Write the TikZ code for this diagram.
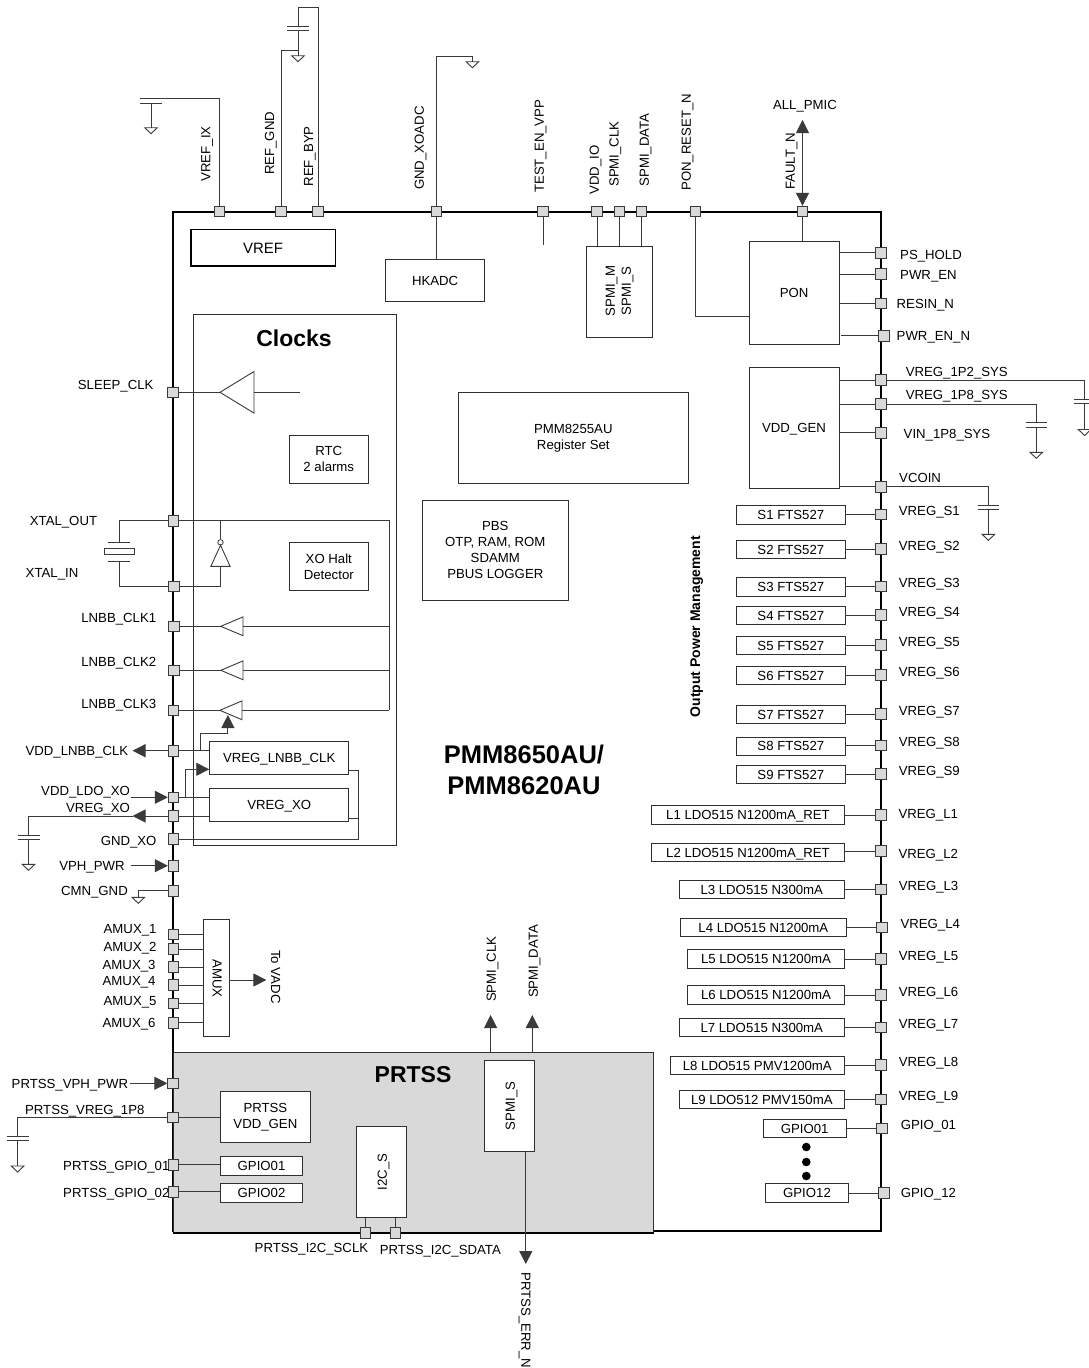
\documentclass[tikz,border=0pt]{standalone}
\usepackage{fontspec}
\setmainfont{Liberation Sans}
\usetikzlibrary{arrows.meta,calc}
\definecolor{wirec}{HTML}{3A3A3A}
\definecolor{padfill}{HTML}{D9D9D9}
\definecolor{boxc}{HTML}{303030}
\newcommand{\txtf}{\fontsize{13.2}{16}\selectfont}
\newcommand{\bx}[7][]{%
 \pgfmathsetmacro\myw{#5-#3}\pgfmathsetmacro\myh{#6-#4}%
 \pgfmathsetmacro\mycx{(#3+#5)/2}\pgfmathsetmacro\mycy{(#4+#6)/2}%
 \node[blk,minimum width=\myw pt,minimum height=\myh pt,#1] (#2) at (\mycx,\mycy) {#7};}
\newcommand{\pd}[3]{\node[padbox] (#1) at (#2,#3) {};}
% capacitor plates, horizontal, with named terminals
\newcommand{\capv}[4][10.7]{%
 \coordinate (#2-a) at (#3,#4); \coordinate (#2-b) at ($(#3,#4)+(0,4.6)$);
 \draw[wire] ($(#2-a)+(-#1,0)$) -- ($(#2-a)+(#1,0)$);
 \draw[wire] ($(#2-b)+(-#1,0)$) -- ($(#2-b)+(#1,0)$);}
\newcommand{\gndv}[3]{%
 \coordinate (#1-a) at (#2,#3);
 \draw[wire,line join=miter] ($(#1-a)+(-6.3,0)$) -- ($(#1-a)+(6.3,0)$) -- ($(#1-a)+(0,6)$) -- cycle;}
\newcommand{\bufl}[5]{% name, tip x, base x, y, half height
 \coordinate (#1-t) at (#2,#4); \coordinate (#1-b) at (#3,#4);
 \draw[wire,fill=white] (#1-t) -- ($(#1-b)+(0,-#5)$) -- ($(#1-b)+(0,#5)$) -- cycle;}
\tikzset{
 wire/.style={draw=wirec,line width=0.9pt},
 blk/.style={draw=boxc,line width=0.9pt,fill=white,inner sep=0pt,align=center,font=\txtf,text=black,text height=9.6pt,text depth=0pt},
 ml/.style={text height={},text depth={}},
 padbox/.style={draw=wirec,line width=0.8pt,fill=padfill,minimum size=10.5pt,inner sep=0pt},
 lb/.style={font=\txtf,inner sep=0pt,text=black,text height=9.6pt,text depth=0pt},
 bold/.style={inner sep=0pt,text=black,align=center},
 arr/.style={wire,-{Triangle[length=13pt,width=13pt]}},
 darr/.style={wire,{Triangle[length=13pt,width=13pt]}-{Triangle[length=13pt,width=13pt]}},
}
\begin{document}
\begin{tikzpicture}[x=1pt,y=-1pt]
\useasboundingbox (0,0) rectangle (1088,1368);
\fill[white] (0,0) rectangle (1088,1368);
% chip outline and PRTSS region
\node[draw=black,line width=2pt,inner sep=0pt,minimum width=708pt,minimum height=1019.5pt] (chip) at (527,721.7) {};
\node[draw=boxc,line width=1pt,fill=padfill,inner sep=0pt,minimum width=480pt,minimum height=180pt] (prt) at (413,1142) {};
\draw[black,line width=2pt] (prt.south west) -- (prt.south east);
% Clocks region
\bx[fill=none]{clk}{193}{314}{396}{845}{}
% blocks
\bx[line width=1.5pt,draw=black,font=\fontsize{15}{18}\selectfont,text height=10.8pt]{vref}{190.8}{229.7}{335.4}{266}{VREF}
\bx{hk}{385.7}{259.7}{484.5}{301}{HKADC}
\bx{spmi}{586.5}{246}{652.5}{337.3}{}
\bx{pon}{749}{241.7}{839.2}{344}{PON}
\bx{vgen}{749}{367.7}{839}{488}{VDD\_GEN}
\bx[ml]{regs}{458.3}{392.7}{688.3}{483.3}{PMM8255AU\\Register Set}
\bx[ml]{pbs}{422.3}{500}{568.3}{600}{PBS\\OTP, RAM, ROM\\SDAMM\\PBUS LOGGER}
\bx[ml]{rtc}{289.6}{435.3}{368}{483.3}{RTC\\2 alarms}
\bx[ml]{xoh}{289.6}{542.3}{368}{590.3}{XO Halt\\Detector}
\bx{vlnbb}{209.7}{741.7}{348.7}{774.3}{VREG\_LNBB\_CLK}
\bx{vxo}{209.7}{788}{348.7}{821}{VREG\_XO}
\bx{amux}{203.7}{919.7}{229.5}{1036.7}{}
\bx[ml]{pvg}{220.4}{1091.7}{310.4}{1142}{PRTSS\\VDD\_GEN}
\bx{pg1}{220.4}{1156.7}{302.7}{1175}{GPIO01}
\bx{pg2}{220.4}{1183.7}{302.7}{1202}{GPIO02}
\bx{i2c}{356}{1126.7}{406.4}{1217}{}
\bx{sps}{484.5}{1060.7}{534.6}{1151}{}
% rotated text inside blocks
\node[lb,rotate=90] (tsm) at (610,291) {SPMI\_M};
\node[lb,rotate=90] (tss) at (626,291) {SPMI\_S};
\node[lb,rotate=-90] (tam) at (217.4,978.7) {AMUX};
\node[lb,rotate=90] (ti2) at (382,1172) {I2C\_S};
\node[lb,rotate=90] (tsp) at (510,1106) {SPMI\_S};
% regulators on the right
\foreach \n/\xa/\ya/\xb/\yb/\t/\px/\py/\l/\lx/\ly in {
 S1/736.7/505.7/845/524/S1 FTS527/881/514.3/VREG\_S1/898.7/510.7,
 S2/736.7/540.3/845/558.3/S2 FTS527/881/549/VREG\_S2/898.7/545.3,
 S3/736.7/577.7/845/596/S3 FTS527/881/586.3/VREG\_S3/898.7/582.3,
 S4/736.7/606.3/845/624.7/S4 FTS527/881/615/VREG\_S4/898.7/611.3,
 S5/736.7/636.3/845/654.3/S5 FTS527/881/645/VREG\_S5/898.7/641.3,
 S6/736.7/666.3/845/684.3/S6 FTS527/881/675/VREG\_S6/898.7/671.3,
 S7/736.7/705.3/845/723.3/S7 FTS527/881/714/VREG\_S7/898.7/710.3,
 S8/736.7/737/845/755/S8 FTS527/881/745.3/VREG\_S8/898.7/741.3,
 S9/736.7/765.3/845/783.3/S9 FTS527/881/774/VREG\_S9/898.7/770.3,
 L1/651.7/805.7/844.3/824/L1 LDO515 N1200mA\_RET/881/815/VREG\_L1/898.3/813.3,
 L2/651.7/843.3/844.3/861.7/L2 LDO515 N1200mA\_RET/881/851/VREG\_L2/898.3/853.3,
 L3/679.3/880.3/844.3/898.7/L3 LDO515 N300mA/881/889.3/VREG\_L3/898.7/885.3,
 L4/680.7/918.3/846/936.3/L4 LDO515 N1200mA/881.7/927.3/VREG\_L4/900.3/923.3,
 L5/687.7/949.7/844.3/968/L5 LDO515 N1200mA/881/959/VREG\_L5/898.7/955.3,
 L6/687.7/985.7/844.3/1004/L6 LDO515 N1200mA/881/995/VREG\_L6/898.7/991.3,
 L7/679.3/1018.3/844.3/1036.7/L7 LDO515 N300mA/881/1027.3/VREG\_L7/898.7/1023.3,
 L8/670.3/1056.3/844.3/1074.3/L8 LDO515 PMV1200mA/881/1065/VREG\_L8/898.7/1061.3,
 L9/679.3/1090.3/844.3/1108.3/L9 LDO512 PMV150mA/881/1099.3/VREG\_L9/898.7/1095.3,
 G1/763.3/1119.3/846/1137.3/GPIO01/881.7/1128.3/GPIO\_01/900.7/1124.3,
 G12/765.7/1183.7/848.3/1202/GPIO12/884/1193/GPIO\_12/900.7/1192.3}{
 \bx{b\n}{\xa}{\ya}{\xb}{\yb}{\t}
 \pd{p\n}{\px}{\py}
 \draw[wire] (p\n.west) -- (b\n.east |- p\n.west);
 \node[lb,anchor=west] (l\n) at (\lx,\ly) {\l};
}
\node[circle,fill=black,inner sep=0pt,minimum size=8.6pt] (d1) at (806.3,1147) {};
\node[circle,fill=black,inner sep=0pt,minimum size=8.6pt] (d2) at (806.3,1162) {};
\node[circle,fill=black,inner sep=0pt,minimum size=8.6pt] (d3) at (806.3,1176) {};
% top pads with rotated names
\foreach \n/\x/\t/\lx/\ly in {
 VI/219.5/VREF\_IX/205.6/181.7, RG/281/REF\_GND/269.3/175, RB/318/REF\_BYP/308.2/186.7,
 GX/436.3/GND\_XOADC/419/190, TE/543/TEST\_EN\_VPP/539/193, VO/597/VDD\_IO/594/195,
 SC/619.3/SPMI\_CLK/613.7/187, SD/641.4/SPMI\_DATA/644/186.7, PR/695.5/PON\_RESET\_N/686/191,
 FN/802.5/FAULT\_N/790/190}{
 \pd{p\n}{\x}{211.5}
 \node[lb,rotate=90,anchor=west] (l\n) at (\lx,\ly) {\t};
}
% right pads
\foreach \n/\x/\y/\t/\lx/\ly in {
 PS/881/252.7/PS\_HOLD/900/255, PE/881/274/PWR\_EN/900/274.3, RN/881/303.3/RESIN\_N/896.5/303.3,
 PEN/884/335.7/PWR\_EN\_N/896.5/335.3, V12/881/380/VREG\_1P2\_SYS/905.6/371.3,
 V18/881/404/VREG\_1P8\_SYS/905.6/395, VIN/881/432.7/VIN\_1P8\_SYS/903.5/433.3, VC/881/486.7/VCOIN/899/477.3}{
 \pd{p\n}{\x}{\y}
 \node[lb,anchor=west] (l\n) at (\lx,\ly) {\t};
}
% left pads
\foreach \n/\x/\y/\t/\lx/\ly in {
 SL/173/392.3/SLEEP\_CLK/153.7/384.3, XO/173.5/520.7/XTAL\_OUT/97.3/520.3, XI/174/586.3/XTAL\_IN/78.5/572.3,
 C1/174/626.3/LNBB\_CLK1/156.4/617.3, C2/174/670.3/LNBB\_CLK2/156.4/661.3, C3/173.5/710.3/LNBB\_CLK3/156.4/703.3,
 VL/173.5/750.7/VDD\_LNBB\_CLK/128.5/750.3, VD/173.5/797.3/VDD\_LDO\_XO/130.2/790.3, VX/173.5/816/VREG\_XO/130.2/808,
 GO/173.5/839/GND\_XO/156.7/840.3, VP/173.5/865.7/VPH\_PWR/124.8/865.3, CG/173.5/890.7/CMN\_GND/128/890.3,
 A1/173.5/934.3/AMUX\_1/156.7/928.7, A2/173.5/949/AMUX\_2/156.7/946.7, A3/173.5/967/AMUX\_3/155.7/964.3,
 A4/173.5/985/AMUX\_4/155.7/980.3, A5/173.5/1003.3/AMUX\_5/156.7/1000.3, A6/173.5/1022.7/AMUX\_6/155.7/1022.3}{
 \pd{p\n}{\x}{\y}
 \node[lb,anchor=east] (l\n) at (\lx,\ly) {\t};
}
% PRTSS pads
\pd{pPV}{173}{1083.3}\pd{pPR1}{173}{1117.5}\pd{pPG1}{173.5}{1164.7}\pd{pPG2}{173.5}{1191.7}
\pd{pSC2}{365.5}{1232.7}\pd{pSD2}{395.3}{1232.7}
\node[lb,anchor=west] (lPV) at (11.5,1083.3) {PRTSS\_VPH\_PWR};
\node[lb,anchor=west] (lPR1) at (24.9,1109.3) {PRTSS\_VREG\_1P8};
\node[lb,anchor=west] (lPG1) at (63,1165.3) {PRTSS\_GPIO\_01};
\node[lb,anchor=west] (lPG2) at (63,1192.3) {PRTSS\_GPIO\_02};
\node[lb,anchor=west] (lSC2) at (254.5,1248) {PRTSS\_I2C\_SCLK};
\node[lb,anchor=west] (lSD2) at (379.6,1249.3) {PRTSS\_I2C\_SDATA};
\node[lb,rotate=-90,anchor=west] (lERR) at (526.2,1272.3) {PRTSS\_ERR\_N};
\node[lb,rotate=90,anchor=west] (lSCK) at (491,1002) {SPMI\_CLK};
\node[lb,rotate=90,anchor=west] (lSDT) at (533,998) {SPMI\_DATA};
\node[lb,rotate=-90] (lVADC) at (275.8,977) {To VADC};
\node[lb] (lALL) at (805,105) {ALL\_PMIC};
% big labels
\node[bold,font=\bfseries\fontsize{23}{26}\selectfont] (tClk) at (294,338) {Clocks};
\node[bold,font=\bfseries\fontsize{23}{26}\selectfont] (tPrt) at (413,1075) {PRTSS};
\node[bold,font=\bfseries\fontsize{25.5}{31.5}\selectfont] (tChip) at (524,770) {PMM8650AU/\\PMM8620AU};
\node[bold,font=\bfseries\fontsize{14}{16}\selectfont,rotate=90] (tOut) at (696.7,626.7) {Output Power Management};
% ---- connectors: top side
\capv{cVI}{151}{98.7}\gndv{gVI}{151}{127.7}
\draw[wire] (pVI.north) |- (cVI-a);
\draw[wire] (cVI-b) -- (gVI-a);
\capv{cRB}{298}{26}\gndv{gRB}{298}{55.7}
\coordinate (jRT) at (298,7.7);\coordinate (jRG) at (298,50);
\draw[wire] (pRB.north) |- (jRT) -- (cRB-a);
\draw[wire] (cRB-b) -- (gRB-a);
\draw[wire] (pRG.north) |- (jRG);
\gndv{gGX}{472.4}{61.7}
\coordinate (jGX) at (472.4,56);
\draw[wire] (pGX.north) |- (jGX) -- (gGX-a);
\draw[wire] (pGX.south) -- (hk.north -| pGX.south);
\coordinate (eTE) at (543,245);
\draw[wire] (pTE.south) -- (eTE);
\draw[wire] (pVO.south) -- (spmi.north -| pVO.south);
\draw[wire] (pSC.south) -- (spmi.north -| pSC.south);
\draw[wire] (pSD.south) -- (spmi.north -| pSD.south);
\draw[wire] (pPR.south) |- (pon.west |- 0,316.7);
\draw[wire] (pFN.south) -- (pon.north -| pFN.south);
\coordinate (eALL) at (802.5,120);
\draw[darr] (eALL) -- (pFN.north);
% ---- connectors: right side
\foreach \n in {PS,PE,RN}{\draw[wire] (p\n.west) -- (pon.east |- p\n.west);}
\coordinate (ePEN) at (841.3,335.7);
\draw[wire] (pPEN.west) -- (ePEN);
\foreach \n in {V12,V18,VIN,VC}{\draw[wire] (p\n.west) -- (vgen.east |- p\n.west);}
\capv{cV12}{1084.6}{399.3}\gndv{gV12}{1084.6}{429.5}
\draw[wire] (pV12.east) -| (cV12-a); \draw[wire] (cV12-b) -- (gV12-a);
\capv{cV18}{1036.3}{422.7}\gndv{gV18}{1036.3}{452.3}
\draw[wire] (pV18.east) -| (cV18-a); \draw[wire] (cV18-b) -- (gV18-a);
\capv{cVC}{988.4}{505}\gndv{gVC}{988.4}{534.3}
\draw[wire] (pVC.east) -| (cVC-a); \draw[wire] (cVC-b) -- (gVC-a);
% ---- connectors: clocks
\bufl{bS}{220}{254}{392.3}{20.8}
\coordinate (eS) at (300,392.3);
\draw[wire] (pSL.east) -- (bS-t);
\draw[wire] (bS-b) -- (eS);
\coordinate (cXl) at (119,520.7);\coordinate (cXb) at (119,586.3);
\coordinate (rXT) at (389,520.7);\coordinate (rC1) at (389,626.3);\coordinate (rC2) at (389,670.3);\coordinate (rC3) at (389,710.3);
\coordinate (xP1) at (119,542);\coordinate (xP2) at (119,561.3);
\draw[wire] (pXO.west) -- (cXl) -- (xP1);
\draw[wire] ($(xP1)+(-10.9,0)$) -- ($(xP1)+(10.9,0)$);
\node[draw=wirec,line width=0.9pt,inner sep=0pt,minimum width=30.2pt,minimum height=6pt] (xtal) at (119.5,551) {};
\draw[wire] ($(xP2)+(-10.9,0)$) -- ($(xP2)+(10.9,0)$);
\draw[wire] (xP2) -- (cXb) -- (pXI.west);
\draw[wire] (pXO.east) -- (rXT) -- (rC3);
\node[circle,draw=wirec,line width=0.8pt,inner sep=0pt,minimum size=5.4pt] (iB) at (220.5,542.3) {};
\coordinate (iT) at (220.5,545.2);\coordinate (iN) at (220.5,566.3);
\draw[wire] (iT) -- ($(iN)+(-9.6,0)$) -- ($(iN)+(9.6,0)$) -- cycle;
\draw[wire] (rXT -| iB) -- (iB.north);
\draw[wire] (pXI.east) -| (iN);
\bufl{b1}{220.8}{243}{626.3}{9.4}
\bufl{b2}{220.8}{243}{670.3}{9.4}
\bufl{b3}{219.8}{242}{710.3}{9.4}
\draw[wire] (pC1.east) -- (b1-t);\draw[wire] (b1-b) -- (rC1);
\draw[wire] (pC2.east) -- (b2-t);\draw[wire] (b2-b) -- (rC2);
\draw[wire] (pC3.east) -- (b3-t);\draw[wire] (b3-b) -- (rC3);
% ---- connectors: LNBB / XO
\coordinate (eVL) at (132.5,750.7);
\draw[arr] (pVL.west) -- (eVL);
\draw[wire] (pVL.east) -- (vlnbb.west |- pVL.east);
\coordinate (jV1) at (200.3,750.7);\coordinate (eB3) at (227.9,715);
\draw[arr] (jV1) |- (227.9,733.3) -- (eB3);
\coordinate (sVD) at (131,797.3);
\draw[arr] (sVD) -- (pVD.west);
\draw[wire] (pVD.east) -- (vxo.west |- pVD.east);
\coordinate (jV2) at (185.6,797.3);
\draw[arr] (jV2) |- (vlnbb.west |- 0,769.3);
\coordinate (eVX) at (132.5,816);\coordinate (jVX) at (146,816);
\capv[11]{cVX}{28.5}{835}\gndv{gVX}{28.5}{864.3}
\draw[wire] (pVX.east) -- (vxo.west |- pVX.east);
\draw[arr] (pVX.west) -- (eVX);
\draw[wire] (eVX) -| (cVX-a);
\draw[wire] (cVX-b) -- (gVX-a);
\coordinate (rG) at (358,839);
\draw[wire] (pGO.east) -- (rG) -- (358,770) -- (vlnbb.east |- 0,770);
\draw[wire] (vxo.east |- 0,818) -- (358,818);
\coordinate (sVP) at (131,865.7);
\draw[arr] (sVP) -- (pVP.west);
\gndv{gCG}{138.3}{897.3}
\draw[wire] (pCG.west) -| (gCG-a);
% ---- connectors: AMUX
\foreach \n in {A1,A2,A3,A4,A5,A6}{\draw[wire] (p\n.east) -- (amux.west |- p\n.east);}
\coordinate (eAM) at (266.4,980);
\draw[arr] (amux.east |- eAM) -- (eAM);
% ---- connectors: PRTSS
\coordinate (sPV) at (130,1083.3);
\draw[arr] (sPV) -- (pPV.west);
\capv[10.9]{cPR}{17.6}{1136.3}\gndv{gPR}{17.6}{1166}
\draw[wire] (pPR1.west) -| (cPR-a);
\draw[wire] (cPR-b) -- (gPR-a);
\draw[wire] (pPR1.east) -- (pvg.west |- pPR1.east);
\draw[wire] (pPG1.east) -- (pg1.west |- pPG1.east);
\draw[wire] (pPG2.east) -- (pg2.west |- pPG2.east);
\draw[wire] (i2c.south -| pSC2.north) -- (pSC2.north);
\draw[wire] (i2c.south -| pSD2.north) -- (pSD2.north);
\coordinate (eERR) at (525.8,1264);
\draw[arr] (sps.south -| eERR) -- (eERR);
\coordinate (eSCK) at (490.6,1015);\coordinate (eSDT) at (532.3,1015);
\draw[arr] (prt.north -| eSCK) -- (eSCK);
\draw[arr] (prt.north -| eSDT) -- (eSDT);
\end{tikzpicture}
\end{document}
